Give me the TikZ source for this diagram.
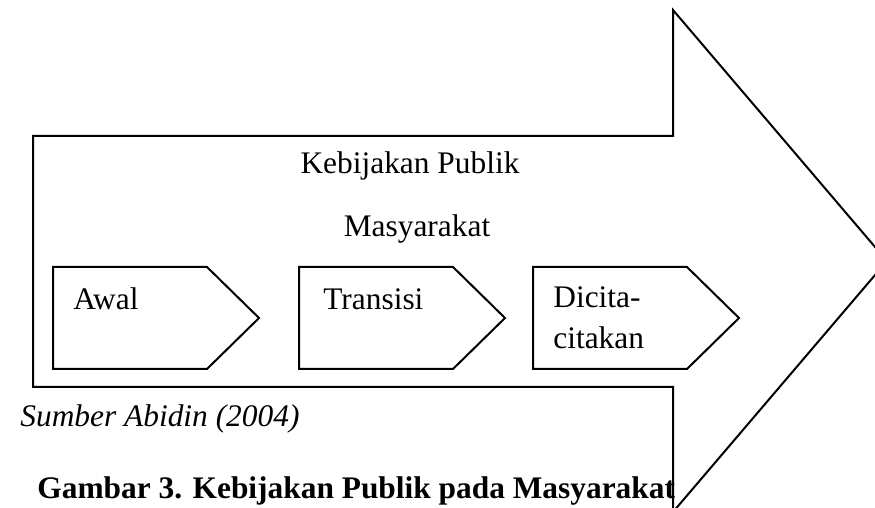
\documentclass[tikz,border=0pt]{standalone}
\usepackage{fontspec}
\setmainfont{Liberation Serif}
\tikzset{
  arrowline/.style = {draw=black, line width=1pt, line join=miter},
  teks/.style      = {inner sep=0pt, font=\fontsize{15.7}{20.5}\selectfont, align=left},
}
% pentagon step: left x of the box
\newcommand{\tahapbox}[1]{
  \draw[arrowline] (#1,267) -- ++(154,0) -- ++(52,51) -- ++(-52,51)
    -- ++(-154,0) -- cycle;
}

\begin{document}
\begin{tikzpicture}[x=0.5pt, y=-0.5pt]
	\useasboundingbox (0,0) rectangle (875,508);
	\clip (0,0) rectangle (875,508);
	% big arrow
	\draw[arrowline] (33,136) -- (673,136) -- (673,10) -- (887,261)
	  -- (673,512) -- (673,387) -- (33,387) -- cycle;
	\node[teks, anchor=base] (kebijakan) at (410,174) {Kebijakan Publik};
	\node[teks, anchor=base] (masyarakat) at (417,237) {Masyarakat};
	% steps
	\tahapbox{53}
	\tahapbox{299}
	\tahapbox{533}
	\node[teks, anchor=base west] (awal) at (73,310) {Awal};
	\node[teks, anchor=base west] (transisi) at (323,310) {Transisi};
	\node[teks, anchor=base west] (dicita) at (553,349) {Dicita-\\citakan};
	% source and caption
	\node[teks, anchor=base west, font=\fontsize{15.7}{20.5}\selectfont\itshape]
	  (sumber) at (20,427) {Sumber Abidin (2004)};
	\node[teks, anchor=base west, font=\fontsize{15.7}{20.5}\selectfont\bfseries]
	  (gambar) at (37,499) {Gambar 3. Kebijakan Publik pada Masyarakat};
\end{tikzpicture}
\end{document}
